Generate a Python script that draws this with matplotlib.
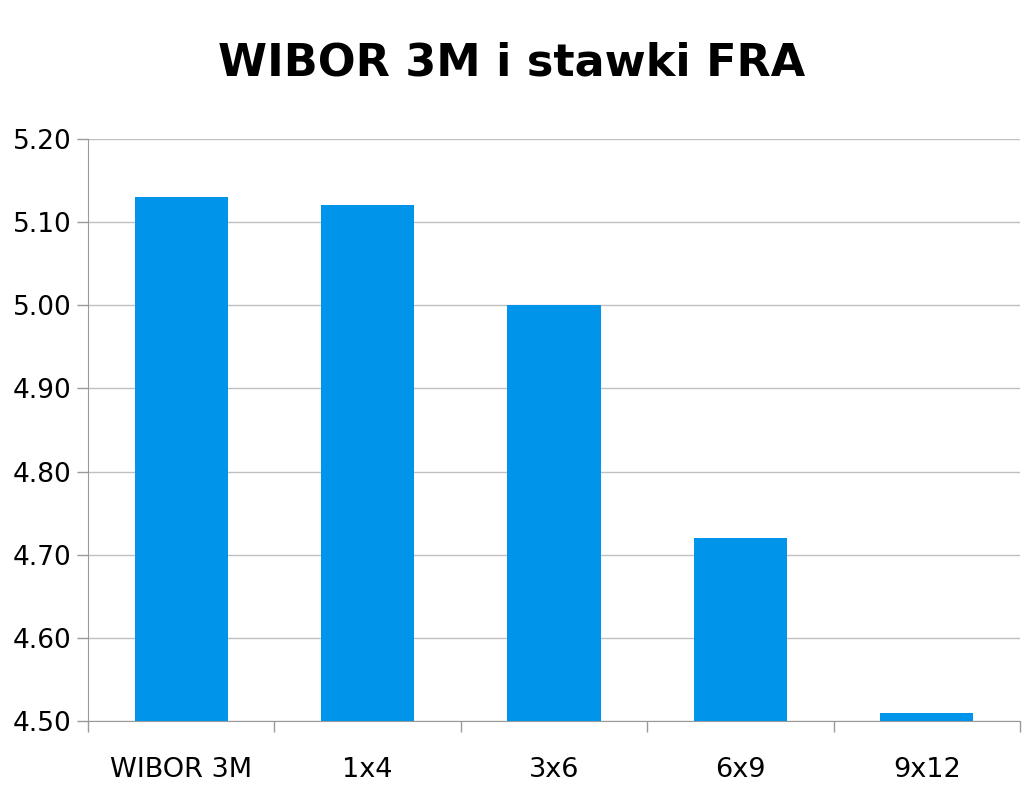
import numpy as np
import matplotlib.pyplot as plt

# dane
categories = ["WIBOR 3M", "1x4", "3x6", "6x9", "9x12"]
values = [5.13, 5.12, 5.00, 4.72, 4.51]
yticks = [4.50, 4.60, 4.70, 4.80, 4.90, 5.00, 5.10, 5.20]

plt.rcParams['font.family'] = ['DejaVu Sans']

fig = plt.figure(figsize=(10.24, 7.91), dpi=100)
ax = fig.add_axes([0.086, 0.0885, 0.91, 0.7358])

x = np.arange(len(categories))
ax.bar(x, values, width=0.5, color="#0095EA", zorder=3)

ax.set_ylim(4.50, 5.20)
ax.set_xlim(-0.5, len(categories) - 0.5)
ax.set_yticks(yticks)
ax.set_yticklabels(["%.2f" % v for v in yticks], fontsize=19)
ax.grid(axis="y", color="#C0C0C0", linewidth=1, zorder=0)

# etykiety kategorii bez kresek, kreski na granicach
ax.set_xticks(x)
ax.set_xticklabels(categories, fontsize=19.5)
ax.tick_params(axis="x", length=0, pad=26)
ax.set_xticks(np.arange(-0.5, len(categories)), minor=True)
ax.tick_params(axis="x", which="minor", length=8, color="#999999", width=1)
ax.tick_params(axis="y", length=8, color="#999999", width=1, pad=4)

for s in ["top", "right"]:
    ax.spines[s].set_visible(False)
ax.spines["left"].set_color("#999999")
ax.spines["bottom"].set_color("#999999")

fig.text(0.5, 0.92, "WIBOR 3M i stawki FRA", ha="center", va="center",
         fontsize=32, fontweight="bold")

fig.savefig("out.png", dpi=100)
